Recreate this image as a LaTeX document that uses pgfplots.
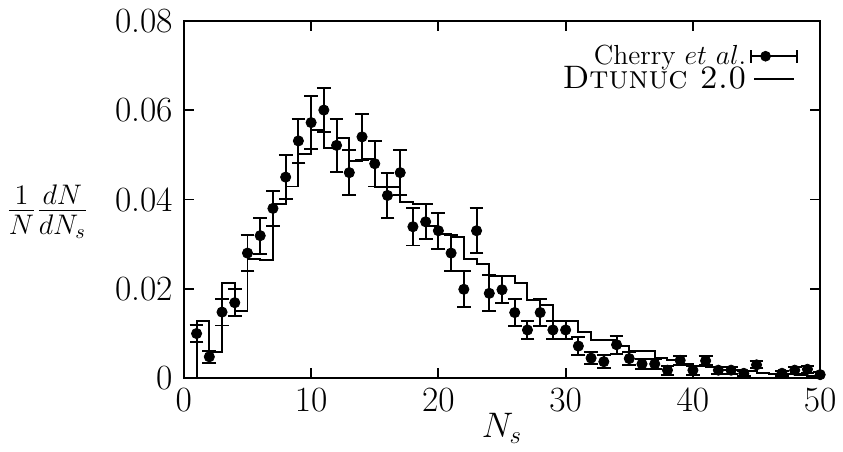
\RequirePackage{fix-cm}
\documentclass[border=0pt]{standalone}
\usepackage{pgfplots}
\pgfplotsset{compat=1.18}
\pgfplotstableread{
x y e
1 0.0100 0.0020
2 0.0048 0.0013
3 0.0148 0.0030
4 0.0169 0.0030
5 0.0280 0.0040
6 0.0319 0.0040
7 0.0380 0.0040
8 0.0450 0.0050
9 0.0531 0.0050
10 0.0572 0.0060
11 0.0600 0.0050
12 0.0521 0.0060
13 0.0460 0.0050
14 0.0540 0.0052
15 0.0480 0.0051
16 0.0409 0.0050
17 0.0460 0.0050
18 0.0339 0.0042
19 0.0350 0.0039
20 0.0330 0.0040
21 0.0280 0.0040
22 0.0199 0.0040
23 0.0330 0.0050
24 0.0190 0.0040
25 0.0198 0.0030
26 0.0147 0.0030
27 0.0108 0.0020
28 0.0147 0.0030
29 0.0108 0.0020
30 0.0108 0.0020
31 0.0072 0.0020
32 0.0045 0.0014
33 0.0037 0.0014
34 0.0075 0.0020
35 0.0044 0.0015
36 0.0032 0.0012
37 0.0032 0.0012
38 0.0018 0.0010
39 0.0040 0.0010
40 0.0018 0.0010
41 0.0039 0.0010
42 0.0018 0.0008
43 0.0018 0.0008
44 0.0011 0.0006
45 0.0030 0.0008
47 0.0011 0.0006
48 0.0018 0.0008
49 0.0020 0.0008
50 0.0008 0.0006
}\cherry
\pgfplotstableread{
x y
0 0
1 0.0128
2 0.0059
3 0.0214
4 0.0150
5 0.0266
6 0.0264
7 0.0390
8 0.0429
9 0.0502
10 0.0556
11 0.0515
12 0.0537
13 0.0487
14 0.0490
15 0.0428
16 0.0428
17 0.0394
18 0.0389
19 0.0340
20 0.0323
21 0.0316
22 0.0266
23 0.0255
24 0.0229
25 0.0229
26 0.0214
27 0.0175
28 0.0163
29 0.0128
30 0.0128
31 0.0103
32 0.0085
33 0.0085
34 0.0072
35 0.0062
36 0.0062
37 0.0046
38 0.0040
39 0.0032
40 0.0028
41 0.0026
42 0.0019
43 0.0018
44 0.0016
45 0.0012
46 0.0010
47 0.0010
48 0.0008
49 0.0006
50 0.0006
}\dtunuc
\begin{document}
\begin{tikzpicture}
\begin{axis}[
  scale only axis, width=323pt, height=181.5pt,
  xmin=0, xmax=50, ymin=0, ymax=0.08,
  xtick={0,10,20,30,40,50},
  ytick={0,0.02,0.04,0.06,0.08},
  yticklabels={0,0.02,0.04,0.06,0.08},
  scaled y ticks=false,
  tick align=inside, tick pos=both,
  major tick length=5pt,
  axis line style={line width=1pt},
  every tick/.style={black, line width=0.9pt},
  tick label style={font=\fontsize{18}{21}\selectfont},
  xticklabel style={yshift=-2pt},
  yticklabel style={xshift=-2pt},
  xlabel={$N_s$},
  xlabel style={font=\fontsize{18}{21}\selectfont, yshift=6pt},
  clip mode=individual,
  legend plot pos=right,
  legend cell align=right,
  legend style={draw=none, fill=none, at={(axis description cs:0.965,0.944)}, anchor=north east, inner sep=0pt, row sep=-4.5pt},
]
\addplot[only marks, mark=*, mark size=2.6pt, black,
  legend image code/.code={
    \draw[line width=1pt] (0pt,0pt) -- (23pt,0pt);
    \draw[line width=1pt] (0pt,-3.2pt) -- (0pt,3.2pt);
    \draw[line width=1pt] (23pt,-3.2pt) -- (23pt,3.2pt);
    \fill (7.3pt,0pt) circle (2.5pt);},
  error bars/.cd, y dir=both, y explicit,
  error bar style={line width=1pt},
  error mark options={rotate=90, mark size=3.5pt, line width=1pt}]
  table[x=x, y=y, y error=e] {\cherry};
\addlegendentry{\fontsize{14}{16}\selectfont Cherry $et\ al.$\hspace{3.5pt}}
\addlegendimage{legend image code/.code={
  \draw[line width=1pt] (1.5pt,0pt) -- (21.5pt,0pt);}}
\addlegendentry{\fontsize{16.5}{19}\selectfont \textsc{Dtunuc 2.0}\hspace{3pt}}
\addplot[const plot, black, line width=1pt, forget plot] table[x=x, y=y] {\dtunuc};
\node[anchor=east, font=\fontsize{20.5}{23}\selectfont] at (axis description cs:-0.1395,0.466) {$\frac{1}{N}\frac{dN}{dN_s}$};
\end{axis}
\path[use as bounding box] ([shift={(-90pt,-37pt)}]current axis.south west) rectangle ([shift={(8.5pt,10.5pt)}]current axis.north east);
\end{tikzpicture}
\end{document}
